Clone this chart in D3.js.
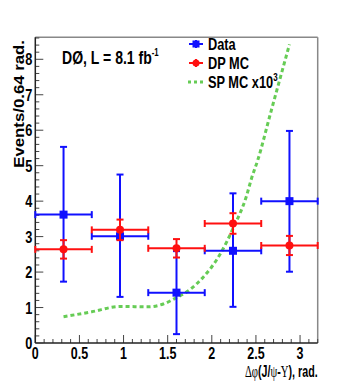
<!DOCTYPE html>
<html><head><meta charset="utf-8">
<script src="https://cdn.jsdelivr.net/npm/d3@7"></script>
<style>
body{margin:0;background:#fff;}
svg text{font-family:"Liberation Sans",Arial,sans-serif;font-weight:bold;fill:#000;}
</style></head>
<body><svg id="c" width="354" height="382"></svg>
<script>
const binCenters = [0.32, 0.96, 1.60, 2.24, 2.88];
const binHalfWidth = 0.32;
const dataValues = [3.62, 3.01, 1.42, 2.60, 4.00];
const dataErrUp = [1.91, 1.74, 1.17, 1.62, 1.98];
const dataErrDown = [1.89, 1.71, 1.17, 1.58, 1.99];
const dpValues = [2.64, 3.19, 2.67, 3.37, 2.75];
const dpErr = [0.26, 0.29, 0.26, 0.29, 0.27];
const spX = [0.32, 0.64, 0.96, 1.28, 1.45, 1.60, 1.75, 1.90, 2.00, 2.10, 2.25, 2.39, 2.45, 2.52, 2.67, 2.88];
const spY = [0.74, 0.88, 1.03, 1.02, 1.10, 1.28, 1.50, 1.85, 2.15, 2.53, 3.28, 4.12, 4.64, 5.15, 6.52, 8.42];
const xTicks = [0, 0.5, 1, 1.5, 2, 2.5, 3];
const yTicks = [0, 1, 2, 3, 4, 5, 6, 7, 8];

const svg = d3.select("#c");
const L = 35.3, R = 317.7, T = 37.3, B = 343;
const x = d3.scaleLinear().domain([0, 3.2]).range([L, R]);
const y = d3.scaleLinear().domain([0, 8.62]).range([B, T]);

// text inside a horizontally-scaled group
function sText(parent, px, py, sx, size, anchor, rot) {
  const g = parent.append("g").attr("transform", `translate(${px},${py})` + (rot ? ` rotate(${rot})` : "") + ` scale(${sx},1)`);
  return g.append("text").attr("font-size", size).attr("text-anchor", anchor || "start");
}

// frame top/right grey
svg.append("line").attr("x1", L).attr("x2", R).attr("y1", T).attr("y2", T).attr("stroke", "#888").attr("stroke-width", 1.5);
svg.append("line").attr("x1", R).attr("x2", R).attr("y1", T).attr("y2", B).attr("stroke", "#888").attr("stroke-width", 1.5);

// x axis ticks (inward)
const xMinor = d3.range(0, 3.2001, 0.1);
svg.append("g").selectAll("line").data(xMinor).join("line")
  .attr("x1", d => x(d)).attr("x2", d => x(d)).attr("y1", B)
  .attr("y2", (d, i) => (i % 5 === 0) ? B - 8 : B - 4)
  .attr("stroke", "#444").attr("stroke-width", 1);
svg.append("line").attr("x1", L).attr("x2", R).attr("y1", B).attr("y2", B).attr("stroke", "#222").attr("stroke-width", 1.5);
xTicks.forEach(d => sText(svg, x(d), B + 16, 0.78, 16, "middle").text(d));

// y axis ticks
const yMinor = d3.range(0, 8.601, 0.2);
svg.append("g").selectAll("line").data(yMinor).join("line")
  .attr("y1", d => y(d)).attr("y2", d => y(d)).attr("x1", L)
  .attr("x2", (d, i) => (i % 5 === 0) ? L + 8 : L + 4)
  .attr("stroke", "#444").attr("stroke-width", 1);
svg.append("line").attr("x1", L).attr("x2", L).attr("y1", T).attr("y2", B).attr("stroke", "#222").attr("stroke-width", 1.5);
yTicks.forEach(d => sText(svg, L - 3, y(d) + 6, 0.75, 17, "end").text(d));

// axis titles
sText(svg, 24, 40, 1.12, 15, "end", -90).text("Events/0.64 rad.");
const xt = sText(svg, R, 377, 0.67, 16, "end");
xt.append("tspan").attr("style", "font-family:'Liberation Serif',serif;font-weight:normal").text("Δφ");
xt.append("tspan").text("(J/");
xt.append("tspan").attr("style", "font-family:'Liberation Serif',serif;font-weight:normal").text("ψ");
xt.append("tspan").text("-");
xt.append("tspan").attr("style", "font-family:'Liberation Serif',serif;font-weight:normal").text("Υ");
xt.append("tspan").text("), rad.");

// label
const lab = sText(svg, 62, 64, 0.78, 18, "start");
lab.append("tspan").text("DØ, L = 8.1 fb");
lab.append("tspan").attr("dy", -8).attr("font-size", 10).text("-1");

// SP MC curve
const line = d3.line().x((d, i) => x(spX[i])).y(d => y(d)).curve(d3.curveMonotoneX);
svg.append("path").attr("d", line(spY)).attr("fill", "none")
  .attr("stroke", "#66cc55").attr("stroke-width", 3).attr("stroke-dasharray", "4,3");

function drawSeries(vals, up, down, color, marker) {
  const g = svg.append("g").attr("stroke", color).attr("fill", color).attr("stroke-width", 2);
  vals.forEach((v, i) => {
    const cx = x(binCenters[i]), cy = y(v);
    const x0 = x(binCenters[i] - binHalfWidth), x1 = x(binCenters[i] + binHalfWidth);
    const y0 = y(v + up[i]), y1 = y(v - down[i]);
    g.append("line").attr("x1", x0).attr("x2", x1).attr("y1", cy).attr("y2", cy);
    g.append("line").attr("x1", cx).attr("x2", cx).attr("y1", y0).attr("y2", y1);
    g.append("line").attr("x1", x0).attr("x2", x0).attr("y1", cy - 3.5).attr("y2", cy + 3.5);
    g.append("line").attr("x1", x1).attr("x2", x1).attr("y1", cy - 3.5).attr("y2", cy + 3.5);
    g.append("line").attr("x1", cx - 3.5).attr("x2", cx + 3.5).attr("y1", y0).attr("y2", y0);
    g.append("line").attr("x1", cx - 3.5).attr("x2", cx + 3.5).attr("y1", y1).attr("y2", y1);
    if (marker === "sq") g.append("rect").attr("x", cx - 4).attr("y", cy - 4).attr("width", 8).attr("height", 8).attr("stroke", "none");
    else g.append("circle").attr("cx", cx).attr("cy", cy).attr("r", 4).attr("stroke", "none");
  });
}
drawSeries(dataValues, dataErrUp, dataErrDown, "#1010ff", "sq");
drawSeries(dpValues, dpErr, dpErr, "#ff1010", "ci");

// legend
const lx = 196;
const lg = svg.append("g");
lg.append("line").attr("x1", lx - 7).attr("x2", lx + 7).attr("y1", 44).attr("y2", 44).attr("stroke", "#1010ff").attr("stroke-width", 2);
lg.append("line").attr("x1", lx).attr("x2", lx).attr("y1", 40).attr("y2", 48).attr("stroke", "#1010ff").attr("stroke-width", 2);
lg.append("rect").attr("x", lx - 3.5).attr("y", 40.5).attr("width", 7).attr("height", 7).attr("fill", "#1010ff");
lg.append("line").attr("x1", lx - 7).attr("x2", lx + 7).attr("y1", 63).attr("y2", 63).attr("stroke", "#ff1010").attr("stroke-width", 2);
lg.append("line").attr("x1", lx).attr("x2", lx).attr("y1", 59).attr("y2", 67).attr("stroke", "#ff1010").attr("stroke-width", 2);
lg.append("circle").attr("cx", lx).attr("cy", 63).attr("r", 3.5).attr("fill", "#ff1010");
lg.append("line").attr("x1", lx - 8).attr("x2", lx + 7).attr("y1", 82).attr("y2", 82).attr("stroke", "#66cc55").attr("stroke-width", 3).attr("stroke-dasharray", "3,3");
sText(lg, 208, 50, 0.8, 16, "start").text("Data");
sText(lg, 208, 69, 0.8, 16, "start").text("DP MC");
const sp = sText(lg, 208, 88, 0.8, 16, "start");
sp.append("tspan").text("SP MC x10");
sp.append("tspan").attr("dy", -7).attr("font-size", 10).text("3");
</script></body></html>
